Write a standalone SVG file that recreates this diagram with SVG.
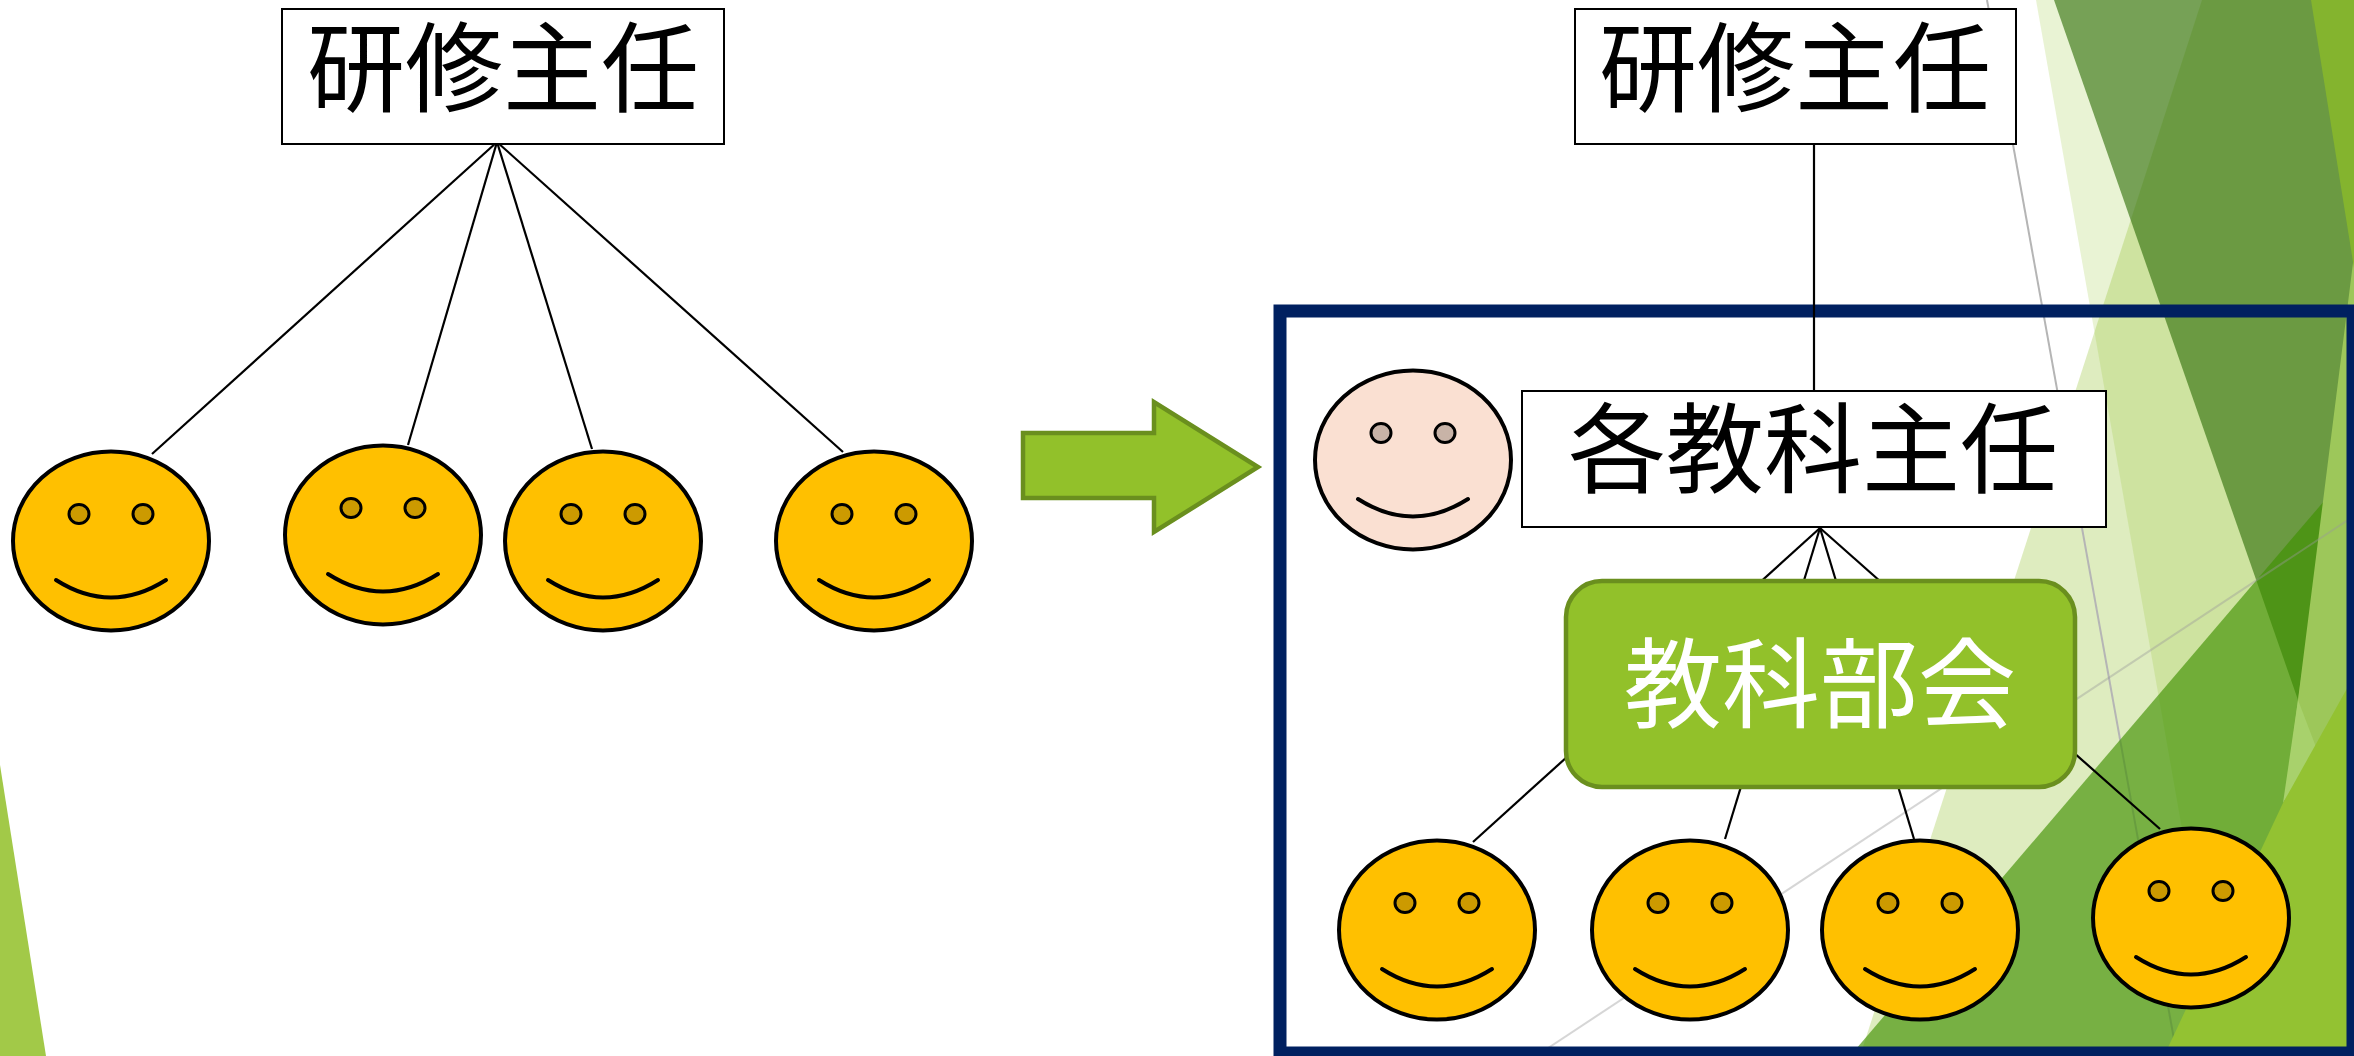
<svg xmlns="http://www.w3.org/2000/svg" width="2354" height="1056" viewBox="0 0 2354 1056">
<style>
.box{fill:#ffffff;stroke:#000000;stroke-width:2}
.lbl{font-family:"Liberation Sans","Noto Sans CJK JP","Noto Sans CJK SC",sans-serif;font-size:98px;text-anchor:middle;fill:#000000}
.lblw{fill:#ffffff}
.con{stroke:#000000;stroke-width:2.2;fill:none}
.body{fill:#FFC000;stroke:#000000;stroke-width:4}
.pink{fill:#FAE0D2}
.eye{fill:#CC9A00;stroke:#000000;stroke-width:3}
.eyep{fill:#C8B3A7}
.smile{fill:none;stroke:#000000;stroke-width:4;stroke-linecap:round}
.green{fill:#92C12A;stroke:#6A8F1E;stroke-width:4.5}
</style>
<rect width="2354" height="1056" fill="#ffffff"/>
<g id="background">
<polygon points="0,765 46,1056 0,1056" fill="#A2C948"/>
<polygon points="2202,0 2354,0 2354,1056 1860,1056" fill="#92C12A" opacity="0.3"/>
<polygon points="2036,0 2354,0 2354,1056 2222,1056" fill="#92C12A" opacity="0.2"/>
<line x1="1987" y1="0" x2="2177" y2="1056" stroke="#B5B5B5" stroke-width="2"/>
<polygon points="2054,0 2400,0 2298,700" fill="#2E6E08" opacity="0.62"/>
<polygon points="1850,1056 2354,466 2354,1056" fill="#3F9100" opacity="0.65"/>
<polygon points="2354,255 2298,700 2252,1056 2354,1056" fill="#9DC75A"/>
<polygon points="2298,700 2316,747 2283,803" fill="#A8D16C"/>
<polygon points="2354,676 2283,803 2164,1056 2354,1056" fill="#93C232"/>
<polygon points="2311,0 2354,0 2354,268" fill="#84B42E"/>
<line x1="1536" y1="1056" x2="2354" y2="516" stroke="#9A9A9A" stroke-width="2" opacity="0.4"/>
</g>
<g id="frame">
<rect x="1280" y="311" width="1073" height="742" fill="none" stroke="#002060" stroke-width="13"/>
</g>
<g id="arrow">
<polygon class="green" points="1023,433 1154,433 1154,402 1258,467 1154,532 1154,498 1023,498"/>
</g>
<g id="connectors">
<line class="con" x1="497" y1="142" x2="152" y2="454"/>
<line class="con" x1="497" y1="142" x2="408" y2="445"/>
<line class="con" x1="497" y1="142" x2="592" y2="449"/>
<line class="con" x1="497" y1="142" x2="843" y2="452"/>
<line class="con" x1="1814" y1="144" x2="1814" y2="392"/>
<line class="con" x1="1820" y1="528" x2="1473" y2="842"/>
<line class="con" x1="1820" y1="528" x2="1725" y2="839"/>
<line class="con" x1="1820" y1="528" x2="1914" y2="839"/>
<line class="con" x1="1820" y1="528" x2="2160" y2="829"/>
</g>
<g id="node-kenshu-left">
<rect class="box" x="282" y="9" width="442" height="135"/>
<text class="lbl" x="503" y="104">研修主任</text>
</g>
<g id="node-kenshu-right">
<rect class="box" x="1575" y="9" width="441" height="135"/>
<text class="lbl" x="1795" y="104">研修主任</text>
</g>
<g id="node-kakukyouka">
<rect class="box" x="1522" y="391" width="584" height="136"/>
<text class="lbl" x="1813" y="485">各教科主任</text>
</g>
<g id="node-bukai">
<rect class="green" x="1566" y="581" width="509" height="206" rx="36"/>
<text class="lbl lblw" x="1820" y="720">教科部会</text>
</g>
<g id="face-pink" transform="translate(1413,460)">
<ellipse class="body pink" rx="98" ry="89.5"/>
<ellipse class="eye eyep" cx="-32" cy="-27" rx="10" ry="9.5"/>
<ellipse class="eye eyep" cx="32" cy="-27" rx="10" ry="9.5"/>
<path class="smile" d="M-55 39 Q0 74 55 39"/>
</g>
<g id="face-l1" transform="translate(111,541)">
<ellipse class="body" rx="98" ry="89.5"/>
<ellipse class="eye" cx="-32" cy="-27" rx="10" ry="9.5"/>
<ellipse class="eye" cx="32" cy="-27" rx="10" ry="9.5"/>
<path class="smile" d="M-55 39 Q0 74 55 39"/>
</g>
<g id="face-l2" transform="translate(383,535)">
<ellipse class="body" rx="98" ry="89.5"/>
<ellipse class="eye" cx="-32" cy="-27" rx="10" ry="9.5"/>
<ellipse class="eye" cx="32" cy="-27" rx="10" ry="9.5"/>
<path class="smile" d="M-55 39 Q0 74 55 39"/>
</g>
<g id="face-l3" transform="translate(603,541)">
<ellipse class="body" rx="98" ry="89.5"/>
<ellipse class="eye" cx="-32" cy="-27" rx="10" ry="9.5"/>
<ellipse class="eye" cx="32" cy="-27" rx="10" ry="9.5"/>
<path class="smile" d="M-55 39 Q0 74 55 39"/>
</g>
<g id="face-l4" transform="translate(874,541)">
<ellipse class="body" rx="98" ry="89.5"/>
<ellipse class="eye" cx="-32" cy="-27" rx="10" ry="9.5"/>
<ellipse class="eye" cx="32" cy="-27" rx="10" ry="9.5"/>
<path class="smile" d="M-55 39 Q0 74 55 39"/>
</g>
<g id="face-r1" transform="translate(1437,930)">
<ellipse class="body" rx="98" ry="89.5"/>
<ellipse class="eye" cx="-32" cy="-27" rx="10" ry="9.5"/>
<ellipse class="eye" cx="32" cy="-27" rx="10" ry="9.5"/>
<path class="smile" d="M-55 39 Q0 74 55 39"/>
</g>
<g id="face-r2" transform="translate(1690,930)">
<ellipse class="body" rx="98" ry="89.5"/>
<ellipse class="eye" cx="-32" cy="-27" rx="10" ry="9.5"/>
<ellipse class="eye" cx="32" cy="-27" rx="10" ry="9.5"/>
<path class="smile" d="M-55 39 Q0 74 55 39"/>
</g>
<g id="face-r3" transform="translate(1920,930)">
<ellipse class="body" rx="98" ry="89.5"/>
<ellipse class="eye" cx="-32" cy="-27" rx="10" ry="9.5"/>
<ellipse class="eye" cx="32" cy="-27" rx="10" ry="9.5"/>
<path class="smile" d="M-55 39 Q0 74 55 39"/>
</g>
<g id="face-r4" transform="translate(2191,918)">
<ellipse class="body" rx="98" ry="89.5"/>
<ellipse class="eye" cx="-32" cy="-27" rx="10" ry="9.5"/>
<ellipse class="eye" cx="32" cy="-27" rx="10" ry="9.5"/>
<path class="smile" d="M-55 39 Q0 74 55 39"/>
</g>
</svg>
